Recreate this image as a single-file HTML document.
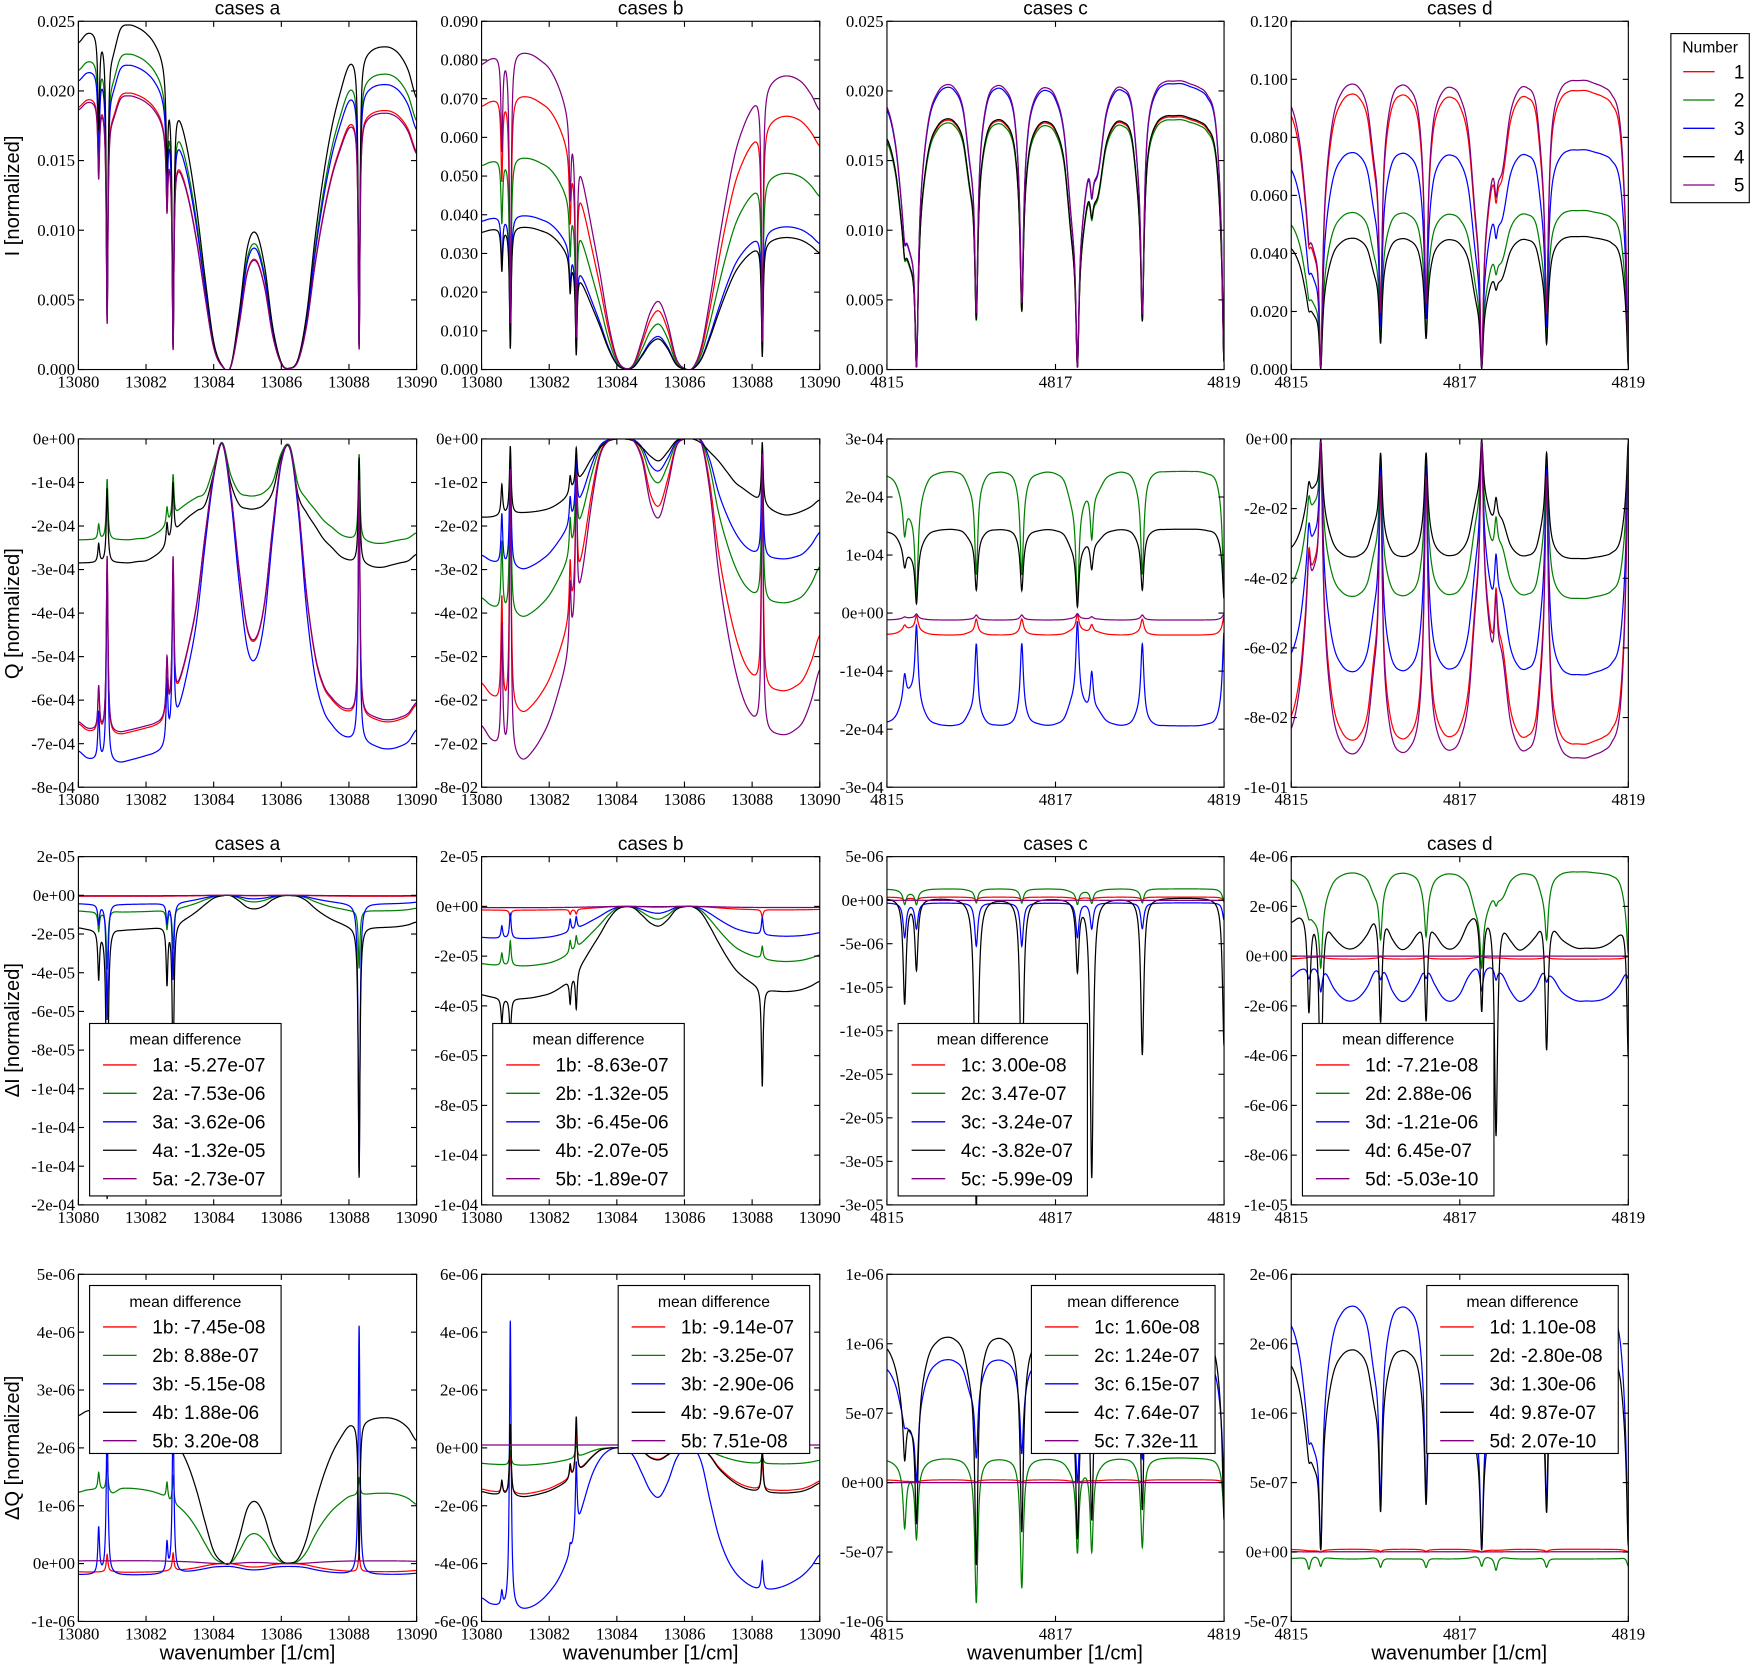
<!DOCTYPE html>
<html><head><meta charset="utf-8">
<style>
html,body{margin:0;padding:0;background:#fff;}
svg{display:block;}
.tk{font-family:"Liberation Serif",serif;font-size:15px;fill:#000;}
.sn{font-family:"Liberation Sans",sans-serif;fill:#000;}
</style></head>
<body>
<svg id="fig" xmlns="http://www.w3.org/2000/svg" width="1756" height="1664" viewBox="0 0 1568 1486" preserveAspectRatio="none">
<rect x="0" y="0" width="1568" height="1486" fill="#fff"/>
</svg>
<script>
// ---------- data ----------
const linesAB = [13080.6, 13080.85, 13082.62, 13082.8, 13088.3];
const linesCD = [4815.21, 4815.35, 4816.06, 4816.6, 4817.26, 4817.43, 4818.03, 4819.0];
const seriesNames = ['1','2','3','4','5'];
const colors = ['#ff0000','#008000','#0000ff','#000000','#800080'];

const shapeIa = [23.5,24.2,24.3,24.0,23.0,24.6,24.8,24.6,24.2,23.5,22.2,19.5,18.2,15.5,11.5,6.5,2.0,0.3,0.2,4.0,8.8,9.8,7.5,3.0,0.5,0.1,0.8,4.0,9.5,14.0,17.5,20.0,22.0,22.5,22.8,23.1,23.2,23.1,22.6,21.5,19.5];
const shapeIb = [79,80.5,81.5,82,82.3,82.2,81.5,80,78,74,68,60,49,37,25,12,3,0.3,1.5,8,15,17.5,12,3,0.3,0.5,6,18,32,45,56,63,68,71.5,74,75.5,76,75.5,74,71,67];
const shapeCD = [0.92,0.80,0.55,0.45,0.70,0.90,0.975,1.0,0.99,0.93,0.75,0.85,0.97,1.0,0.99,0.94,0.78,0.92,0.98,0.99,0.96,0.85,0.55,0.55,0.72,0.70,0.90,0.98,0.99,0.95,0.75,0.92,0.99,1.01,1.01,1.01,1.0,0.99,0.97,0.90,0.60];
const shapeArch = [0.3,0.1,0,0,0.1,0.6,0.9,1.0,0.9,0.6,0.1,0.1,0.7,1.0,0.9,0.5,0.0,0.5,0.9,1.0,0.8,0.3,0,0,0,0.2,0.7,1.0,0.9,0.6,0.1,0.3,0.7,0.9,1.0,1.0,1.0,0.95,0.8,0.5,0];
const shapeQa1 = [-6.55,-6.7,-6.75,-6.8,-6.8,-6.8,-6.75,-6.7,-6.65,-6.6,-6.5,-6.2,-5.6,-4.8,-3.8,-2.2,-0.8,-0.1,-1.2,-3.0,-4.4,-4.6,-3.8,-2.0,-0.5,-0.2,-1.5,-3.6,-5.0,-5.7,-6.0,-6.2,-6.3,-6.35,-6.4,-6.45,-6.5,-6.5,-6.45,-6.35,-6.1];
const shapeQa2 = [-2.85,-2.85,-2.85,-2.85,-2.85,-2.85,-2.85,-2.82,-2.8,-2.7,-2.55,-2.3,-2.0,-1.8,-1.65,-1.5,-0.8,-0.1,-1.0,-1.5,-1.6,-1.6,-1.5,-1.2,-0.4,-0.2,-1.3,-1.7,-2.0,-2.3,-2.5,-2.7,-2.8,-2.85,-2.9,-2.95,-2.95,-2.9,-2.85,-2.8,-2.65];
const shapeQb1 = [-6.6,-6.9,-7.1,-7.3,-7.35,-7.4,-7.2,-6.9,-6.5,-5.9,-5.2,-4.3,-3.0,-1.5,-0.4,-0.05,0,0,-0.05,-0.5,-1.5,-1.8,-1.1,-0.2,0,0,-0.1,-1.2,-3.0,-4.3,-5.3,-6.0,-6.4,-6.6,-6.75,-6.8,-6.8,-6.7,-6.5,-6.0,-5.3];
const shapeQb2 = [-1.8,-1.8,-1.78,-1.75,-1.72,-1.7,-1.68,-1.65,-1.6,-1.5,-1.35,-1.1,-0.8,-0.45,-0.2,-0.05,0,0,-0.05,-0.2,-0.4,-0.5,-0.3,-0.05,0,0,-0.1,-0.3,-0.5,-0.75,-1.0,-1.15,-1.3,-1.45,-1.6,-1.7,-1.75,-1.72,-1.65,-1.55,-1.4];
const shapeDQb3 = [-5.2,-5.4,-5.5,-5.6,-5.6,-5.6,-5.5,-5.3,-5.0,-4.6,-4.0,-3.2,-2.0,-1.0,-0.4,-0.1,0,0,-0.3,-0.9,-1.5,-1.7,-1.2,-0.4,0,0,-0.5,-1.8,-3.0,-3.8,-4.3,-4.6,-4.8,-4.9,-4.9,-4.85,-4.75,-4.6,-4.4,-4.1,-3.7];
const shapeQc = [0.97,0.93,0.80,0.72,0.85,0.96,0.99,1.0,1.0,0.98,0.90,0.93,0.99,1.0,1.0,0.98,0.90,0.97,0.99,1.0,0.99,0.95,0.80,0.80,0.88,0.88,0.96,0.99,1.0,0.98,0.90,0.97,1.0,1.0,1.0,1.0,1.0,1.0,0.99,0.97,0.85];

// row 1 (I)
const levIa = [19.9,22.7,21.9,24.8,19.7];
const depIa = [0.28,0.82,0.3,0.9,0.92];
const levIb = [71,55,40,37,82.3];
const depIb = [0.3,0.85,0.3,0.85,0.9];
const levIc = [18.2,18.0,20.6,18.3,20.8];
const depIc = [0.15,0.98,0.75,0.7,0.98,0.15,0.75,0.95];
const levId = [96.5,55,76,46,100];
// row 2 (Q)
const levQa = [6.8,2.4,7.45,2.95,6.75];
const depQa = [0.15,0.6,0.2,0.55,0.85];
const levQb = [6.3,4.1,3.0,1.8,7.4];
const depQb = [0.4,0.9,0.3,0.8,0.95];
const levQc = [-0.38,2.45,-1.95,1.45,-0.12];
const depQc = [0.3,0.85,0.7,0.7,0.9,0.4,0.7,0.8];
const levQd = [-8.8,-4.6,-6.8,-3.45,-9.2];
const depQd = [0.3,0.98,0.85,0.85,0.98,0.3,0.85,0.95];
// row 3 (dI)
const levDIa = [-0.05,-0.85,-0.45,-1.75,-0.02];
const ampDIa = [[0,0,0,0,0],[-1,-3,-1,-2,-3],[-1,-6,-1,-4,-14],[-2.5,-14,-3,-8,-13],[0,0,0,0,0]];
const levDIb = [-0.15,-2.4,-1.3,-3.7,-0.05];
const ampDIb = [[0,-0.3,-0.2,-0.2,-0.3],[0.5,1,0.5,0.5,0.5],[0.5,1,0.5,0.5,0.7],[-1,-1.5,-1,-1.5,-4],[0,0,0,0,0]];
const levDIc = [0.35,1.3,-0.3,0.3,-0.02];
const ampDIc = [[-0.3,-0.3,-0.3,-0.3,-0.3,-0.3,-0.3,-0.3],[-1.5,-1.5,-1.5,-1.5,-1.5,-1.5,-1.5,-1.3],[-4,-3,-5,-5,-4,-3,-3,-2],[-12,-8,-36,-26,-8,-32,-18,-17],[0,0,0,0,0,0,0,0]];
const offDId = [0,0,-0.4,1.9,0];
const levDId = [-0.12,3.4,-1.4,-1.55,0];
const depOnDId = [1,1,0,0,0];
const ampDId = [[0,0,0,0,0,0,0,0],[0,-0.5,0,0,-0.5,0,0,0],[-0.5,-1,-0.5,-0.5,-1,-0.5,-0.5,-0.5],[-4,-8,-4.5,-4.5,-4,-9,-5.5,-6],[0,0,0,0,0,0,0,0]];
// row 4 (dQ)
const offDQa = [0,0,-0.05,0,0];
const levDQa = [-0.15,1.3,-0.15,2.7,0.05];
const ampDQa = [[0,0.3,0,0.3,0.3],[0.3,0.5,0.3,0.5,0.3],[0.8,2.8,0.5,2.8,4.3],[0,0.5,0,0.5,-2.4],[0,0,0,0,0]];
const offDQb = [0,0,0,0,0.1];
const levDQb = [1.6,0.6,5.6,1.7,0];
const ampDQb = [[0.3,1.5,0.3,1.5,1.0],[0,0.5,0,0.5,0.3],[0.5,10,0.3,2.5,1],[0.5,2.5,0.5,2.0,1.5],[0,0,0,0,0]];
const levDQc = [0.2,1.8,9.0,10.7,0];
const ampDQc = [[0,0,0,0,0,0,0,0],[-4,-4,-9,-8,-5,-6,-5,-2],[0,0,0,0,0,0,0,0],[-3,-3,-8,-6,-4,-9,-4,-3],[0,0,0,0,0,0,0,0]];
const levDQd = [0.2,-0.5,18,14.8,0.02];
const ampDQd = [[0,0,0,0,0,0,0,0],[-1,-1,-1,-1,-1,-1,-1,-1],[0,0,0,0,0,0,0,0],[0,0,0,0,0,0,0,0],[0,0,0,0,0,0,0,0]];

// tick labels
const xtAB = ['13080','13082','13084','13086','13088','13090'];
const xtCD = ['4815','4817','4819'];
const ytIa = ['0.025','0.020','0.015','0.010','0.005','0.000'];
const ytIb = ['0.090','0.080','0.070','0.060','0.050','0.040','0.030','0.020','0.010','0.000'];
const ytId = ['0.120','0.100','0.080','0.060','0.040','0.020','0.000'];
const ytQa = ['0e+00','-1e-04','-2e-04','-3e-04','-4e-04','-5e-04','-6e-04','-7e-04','-8e-04'];
const ytQb = ['0e+00','-1e-02','-2e-02','-3e-02','-4e-02','-5e-02','-6e-02','-7e-02','-8e-02'];
const ytQc = ['3e-04','2e-04','1e-04','0e+00','-1e-04','-2e-04','-3e-04'];
const ytQd = ['0e+00','-2e-02','-4e-02','-6e-02','-8e-02','-1e-01'];
const ytDIa = ['2e-05','0e+00','-2e-05','-4e-05','-6e-05','-8e-05','-1e-04','-1e-04','-1e-04','-2e-04'];
const ytDIb = ['2e-05','0e+00','-2e-05','-4e-05','-6e-05','-8e-05','-1e-04','-1e-04'];
const ytDIc = ['5e-06','0e+00','-5e-06','-1e-05','-1e-05','-2e-05','-2e-05','-3e-05','-3e-05'];
const ytDId = ['4e-06','2e-06','0e+00','-2e-06','-4e-06','-6e-06','-8e-06','-1e-05'];
const ytDQa = ['5e-06','4e-06','3e-06','2e-06','1e-06','0e+00','-1e-06'];
const ytDQb = ['6e-06','4e-06','2e-06','0e+00','-2e-06','-4e-06','-6e-06'];
const ytDQc = ['1e-06','1e-06','5e-07','0e+00','-5e-07','-1e-06'];
const ytDQd = ['2e-06','2e-06','1e-06','5e-07','0e+00','-5e-07'];

const legR3a = ['1a: -5.27e-07','2a: -7.53e-06','3a: -3.62e-06','4a: -1.32e-05','5a: -2.73e-07'];
const legR3b = ['1b: -8.63e-07','2b: -1.32e-05','3b: -6.45e-06','4b: -2.07e-05','5b: -1.89e-07'];
const legR3c = ['1c: 3.00e-08','2c: 3.47e-07','3c: -3.24e-07','4c: -3.82e-07','5c: -5.99e-09'];
const legR3d = ['1d: -7.21e-08','2d: 2.88e-06','3d: -1.21e-06','4d: 6.45e-07','5d: -5.03e-10'];
const legR4a = ['1b: -7.45e-08','2b: 8.88e-07','3b: -5.15e-08','4b: 1.88e-06','5b: 3.20e-08'];
const legR4b = ['1b: -9.14e-07','2b: -3.25e-07','3b: -2.90e-06','4b: -9.67e-07','5b: 7.51e-08'];
const legR4c = ['1c: 1.60e-08','2c: 1.24e-07','3c: 6.15e-07','4c: 7.64e-07','5c: 7.32e-11'];
const legR4d = ['1d: 1.10e-08','2d: -2.80e-08','3d: 1.30e-06','4d: 9.87e-07','5d: 2.07e-10'];

// ---------- layout ----------
const colL=[70,430,792,1153], colR=[372,732,1093,1454], rowT=[19,392,765,1138], rowB=[330,703,1076,1448];
const NS='http://www.w3.org/2000/svg';
const svg=document.getElementById('fig');
function mk(tag,attrs,parent,text){const e=document.createElementNS(NS,tag);for(const k in attrs)e.setAttribute(k,attrs[k]);if(text!==undefined)e.textContent=text;(parent||svg).appendChild(e);return e;}

function norm(a){let m=0;for(const v of a)m=Math.max(m,Math.abs(v));return a.map(v=>v/m);}
function interp(arr,x0,x1,x){const n=arr.length-1;let t=(x-x0)/(x1-x0)*n;if(t<0)t=0;if(t>n)t=n;let i=Math.min(Math.floor(t),n-1);const f=t-i;
 const p0=arr[Math.max(i-1,0)],p1=arr[i],p2=arr[i+1],p3=arr[Math.min(i+2,n)];
 return 0.5*((2*p1)+(-p0+p2)*f+(2*p0-5*p1+4*p2-p3)*f*f+(-p0+3*p1-3*p2+p3)*f*f*f);}

const AB={x0:13080,x1:13090,lines:linesAB,g:0.03,xt:xtAB,xtv:[13080,13082,13084,13086,13088,13090]};
const CD={x0:4815,x1:4819,lines:linesCD,g:0.022,xt:xtCD,xtv:[4815,4817,4819]};
const zeros5=[[0,0,0,0,0],[0,0,0,0,0],[0,0,0,0,0],[0,0,0,0,0],[0,0,0,0,0]];
const zeros8=zeros5.map(()=>[0,0,0,0,0,0,0,0]);
const z5=[0,0,0,0,0];

const panels=[
 {r:0,c:0,ax:AB,y0:0,y1:25,yt:ytIa,shapes:[shapeIa,shapeIa,shapeIa,shapeIa,shapeIa],off:z5,lev:levIa,dep:depIa,amp:zeros5,title:'cases a',n:'i-cases-a'},
 {r:0,c:1,ax:AB,y0:0,y1:90,yt:ytIb,shapes:[shapeIb,shapeIb,shapeIb,shapeIb,shapeIb],off:z5,lev:levIb,dep:depIb,amp:zeros5,title:'cases b',n:'i-cases-b'},
 {r:0,c:2,ax:CD,y0:0,y1:25,yt:ytIa,shapes:[shapeCD,shapeCD,shapeCD,shapeCD,shapeCD],off:z5,lev:levIc,dep:depIc,amp:zeros8,title:'cases c',n:'i-cases-c'},
 {r:0,c:3,ax:CD,y0:0,y1:120,yt:ytId,shapes:[shapeCD,shapeCD,shapeCD,shapeCD,shapeCD],off:z5,lev:levId,dep:depIc,amp:zeros8,title:'cases d',n:'i-cases-d'},
 {r:1,c:0,ax:AB,y0:-8,y1:0,yt:ytQa,shapes:[shapeQa1,shapeQa2,shapeQa1,shapeQa2,shapeQa1],off:z5,lev:levQa,dep:depQa,amp:zeros5,n:'q-cases-a'},
 {r:1,c:1,ax:AB,y0:-8,y1:0,yt:ytQb,shapes:[shapeQb1,shapeQb1,shapeQb1,shapeQb2,shapeQb1],off:z5,lev:levQb,dep:depQb,amp:zeros5,n:'q-cases-b'},
 {r:1,c:2,ax:CD,y0:-3,y1:3,yt:ytQc,shapes:[shapeQc,shapeQc,shapeQc,shapeQc,shapeQc],off:z5,lev:levQc,dep:depQc,amp:zeros8,n:'q-cases-c'},
 {r:1,c:3,ax:CD,y0:-10,y1:0,yt:ytQd,shapes:[shapeCD,shapeCD,shapeCD,shapeCD,shapeCD],off:z5,lev:levQd,dep:depQd,amp:zeros8,n:'q-cases-d'},
 {r:2,c:0,ax:AB,y0:-16,y1:2,yt:ytDIa,shapes:[shapeIa,shapeIa,shapeIa,shapeIa,shapeIa],off:z5,lev:levDIa,dep:null,amp:ampDIa,title:'cases a',leg:legR3a,lx:80,n:'di-cases-a'},
 {r:2,c:1,ax:AB,y0:-12,y1:2,yt:ytDIb,shapes:[shapeIb,shapeIb,shapeIb,shapeIb,shapeIb],off:z5,lev:levDIb,dep:null,amp:ampDIb,title:'cases b',leg:legR3b,lx:440,n:'di-cases-b'},
 {r:2,c:2,ax:CD,y0:-35,y1:5,yt:ytDIc,shapes:[shapeQc,shapeQc,shapeQc,shapeQc,shapeQc],off:z5,lev:levDIc,dep:null,amp:ampDIc,title:'cases c',leg:legR3c,lx:802,n:'di-cases-c'},
 {r:2,c:3,ax:CD,y0:-10,y1:4,yt:ytDId,shapes:[shapeCD,shapeCD,shapeArch,shapeArch,shapeCD],off:offDId,lev:levDId,dep:depIc,depOn:depOnDId,amp:ampDId,title:'cases d',leg:legR3d,lx:1163,n:'di-cases-d'},
 {r:3,c:0,ax:AB,y0:-1,y1:5,yt:ytDQa,shapes:[shapeIa,shapeIa,shapeIa,shapeIa,shapeIa],off:offDQa,lev:levDQa,dep:null,amp:ampDQa,leg:legR4a,lx:80,n:'dq-cases-a'},
 {r:3,c:1,ax:AB,y0:-6,y1:6,yt:ytDQb,shapes:[shapeQb1,shapeQb1,shapeDQb3,shapeQb1,shapeQb1],off:offDQb,lev:levDQb,dep:null,amp:ampDQb,leg:legR4b,lx:552,n:'dq-cases-b'},
 {r:3,c:2,ax:CD,y0:-10,y1:15,yt:ytDQc,shapes:[shapeCD,shapeCD,shapeCD,shapeCD,shapeCD],off:z5,lev:levDQc,dep:depIc,amp:ampDQc,leg:legR4c,lx:921,n:'dq-cases-c'},
 {r:3,c:3,ax:CD,y0:-5,y1:20,yt:ytDQd,shapes:[shapeCD,shapeCD,shapeCD,shapeCD,shapeCD],off:z5,lev:levDQd,dep:depIc,amp:ampDQd,leg:legR4d,lx:1274,n:'dq-cases-d'}
];

panels.forEach((p,pi)=>{
 const L=colL[p.c],R=colR[p.c],T=rowT[p.r],B=rowB[p.r];
 const ax=p.ax;
 const xs=x=>L+(x-ax.x0)/(ax.x1-ax.x0)*(R-L);
 const ys=y=>B-(y-p.y0)/(p.y1-p.y0)*(B-T);
 const g=mk('g',{},svg);
 
 
 const cid='clip'+pi;
 const cp=mk('clipPath',{id:cid},g);mk('rect',{x:L,y:T,width:R-L,height:B-T},cp);
 const pg=mk('g',{'clip-path':'url(#'+cid+')'},g);
 let X=[];const N=900;
 for(let i=0;i<=N;i++)X.push(ax.x0+(ax.x1-ax.x0)*i/N);
 ax.lines.forEach(l=>{for(const d of [-0.006,-0.003,0,0.003,0.006])X.push(l+d);});
 X=X.filter(x=>x>=ax.x0&&x<=ax.x1).sort((a,b)=>a-b);
 for(let s=0;s<5;s++){
  const sh=norm(p.shapes[s]);
  const useDep=p.dep&&(!p.depOn||p.depOn[s]);
  let d='';
  X.forEach((x,i)=>{
   let base=interp(sh,ax.x0,ax.x1,x);
   let dip=0,sp=0;
   ax.lines.forEach((l,j)=>{const u=(x-l)/ax.g;const Lr=1/(1+u*u);
     if(useDep)dip+=p.dep[j]*Lr; sp+=p.amp[s][j]*Lr;});
   dip=Math.min(dip,1);
   const v=p.off[s]+p.lev[s]*base*(1-dip)+sp;
   d+=(i?'L':'M')+xs(x).toFixed(2)+' '+ys(v).toFixed(2);
  });
  const path=mk('path',{d:d,fill:'none',stroke:colors[s],'stroke-width':1.1},pg);
  
  
 }
 const fr=mk('rect',{x:L,y:T,width:R-L,height:B-T,fill:'none',stroke:'#000','stroke-width':1},g);
 
 
 ax.xtv.forEach((v,i)=>{const x=xs(v);
  mk('line',{x1:x,y1:B,x2:x,y2:B-5,stroke:'#000'},g);mk('line',{x1:x,y1:T,x2:x,y2:T+5,stroke:'#000'},g);
  const t=mk('text',{x:x,y:B+16,'text-anchor':'middle',class:'tk'},g,ax.xt[i]);
  
  
 });
 const nt=p.yt.length;
 p.yt.forEach((lab,i)=>{const y=T+(B-T)*i/(nt-1);
  mk('line',{x1:L,y1:y,x2:L+5,y2:y,stroke:'#000'},g);mk('line',{x1:R,y1:y,x2:R-5,y2:y,stroke:'#000'},g);
  const t=mk('text',{x:L-3,y:y+5,'text-anchor':'end',class:'tk'},g,lab);
  
  
 });
 if(p.title){
  const t=mk('text',{x:(L+R)/2,y:T-6,'text-anchor':'middle',class:'sn','font-size':17},g,p.title);
  
  
 }
 if(p.leg){
  const lx=p.lx, ly=(p.r===2)?914:1148, lh=(p.r===2)?154:150, lw=(p.c===2?(p.r===2?169:164):171);
  const lg=mk('g',{},g);
  
  
  mk('rect',{x:lx,y:ly,width:lw,height:lh,fill:'#fff',stroke:'#000','stroke-width':1},lg);
  mk('text',{x:lx+lw/2,y:ly+19,'text-anchor':'middle',class:'sn','font-size':14},lg,'mean difference');
  p.leg.forEach((txt,i)=>{const yy=ly+37+i*25.4;
   mk('line',{x1:lx+12,y1:yy,x2:lx+42,y2:yy,stroke:colors[i],'stroke-width':1.2},lg);
   const t=mk('text',{x:lx+56,y:yy+6,class:'sn','font-size':17},lg,txt);
   
   
  });
 }
});

const ylabs=[['I [normalized]',175],['Q [normalized]',548],['\u0394I [normalized]',920],['\u0394Q [normalized]',1293]];
ylabs.forEach(([t,y])=>{const e=mk('text',{x:0,y:0,transform:'translate(17,'+y+') rotate(-90)','text-anchor':'middle',class:'sn','font-size':18},svg,t);
 
 });
[221,581,942,1303].forEach(x=>{const e=mk('text',{x:x,y:1482,'text-anchor':'middle',class:'sn','font-size':18},svg,'wavenumber [1/cm]');
 
 });

const ng=mk('g',{},svg);


mk('rect',{x:1492,y:30,width:70,height:151,fill:'#fff',stroke:'#000','stroke-width':1},ng);
mk('text',{x:1527,y:47,'text-anchor':'middle',class:'sn','font-size':14},ng,'Number');
seriesNames.forEach((nm,i)=>{const y=64+i*25.3;
 mk('line',{x1:1503,y1:y,x2:1531,y2:y,stroke:colors[i],'stroke-width':1.2},ng);
 const t=mk('text',{x:1553,y:y+6,'text-anchor':'middle',class:'sn','font-size':17},ng,nm);
 
 
});
</script>
</body></html>
